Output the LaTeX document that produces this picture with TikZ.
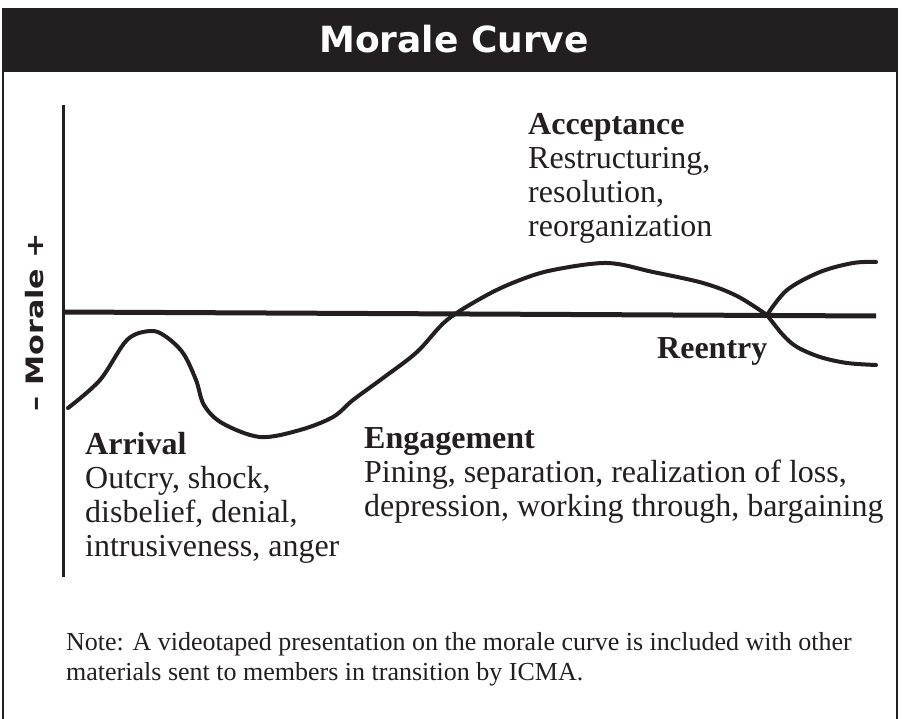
\documentclass[tikz,border=0pt]{standalone}
\usepackage{fontspec}
\setmainfont{Liberation Serif}
\newfontfamily\headfont{DejaVu Sans}
\usepackage{graphicx}
\usetikzlibrary{positioning}
\definecolor{ink}{HTML}{231F20}

\tikzset{
  frame/.style={ink, line width=2pt},
  curve/.style={ink, line width=4pt, line cap=round, line join=round},
  stage/.style={anchor=base west, align=left, inner sep=0pt, text=ink, font=\fontsize{32}{34}\selectfont},
}

\begin{document}
\begin{tikzpicture}[x=1pt, y=-1pt]
        \useasboundingbox (0,0) rectangle (902,719);
        % frame and title bar
        \fill[ink] (2,8) rectangle (898,72);
        \draw[frame] (3,8) -- (3,719);
        \draw[frame] (897,8) -- (897,719);
        \node[anchor=base, text=white, font=\headfont\bfseries\fontsize{36}{36}\selectfont] at (454,53) (title) {Morale Curve};

        % axes
        \draw[ink, line width=3pt] (63,105) -- (63,577);
        \draw[ink, line width=5pt] (63,312) -- (876,316);
        \node[rotate=90, text=ink, font=\headfont\bfseries\fontsize{24}{24}\selectfont] at (35,322) (ylabel) {\scalebox{1.26}[1]{– Morale +}};

        % morale curve and the two reentry branches
        \draw[curve] plot[smooth, tension=0.55] coordinates {(68,408) (100,380) (127,340) (150,331) (165,336) (183,353) (196,380) (204,405) (222,423) (260,437) (300,430) (333,417) (353,400) (383,378) (417,352) (447,320) (487,295) (520,280) (553,270) (607,263) (653,272) (703,283) (737,296) (767,315)};
        \draw[curve] plot[smooth, tension=0.55] coordinates {(767,315) (787,290) (820,272) (853,263) (876,262)};
        \draw[curve] plot[smooth, tension=0.55] coordinates {(767,315) (783,335) (797,347) (820,357) (847,363) (876,365)};

        % stage labels (anchored on the baseline of their last line)
        \node[stage] at (528,237) (acceptance) {\textbf{Acceptance}\\Restructuring,\\resolution,\\reorganization};
        \node[stage] at (657,358) (reentry) {\textbf{Reentry}};
        \node[stage] at (85,556) (arrival) {\textbf{Arrival}\\Outcry, shock,\\disbelief, denial,\\intrusiveness, anger};
        \node[stage] at (364,516) (engagement) {\textbf{Engagement}\\Pining, separation, realization of loss,\\depression, working through, bargaining};

        \node[stage, font=\fontsize{26}{30}\selectfont] at (66,680) (note) {Note: A videotaped presentation on the morale curve is included with other\\materials sent to members in transition by ICMA.};
\end{tikzpicture}
\end{document}
